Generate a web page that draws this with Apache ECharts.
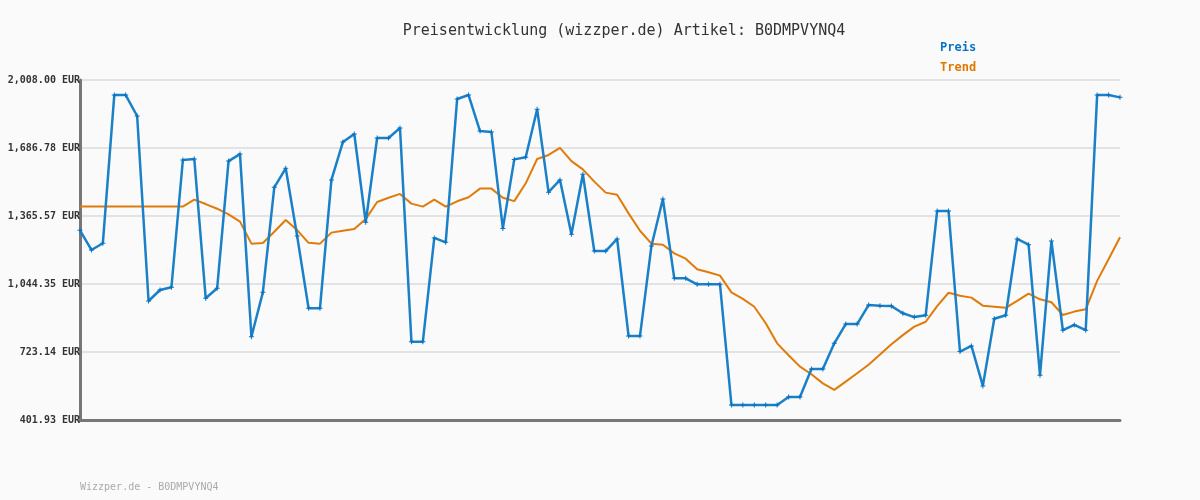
<!DOCTYPE html>
<html>
<head>
<meta charset="utf-8">
<script src="https://cdn.jsdelivr.net/npm/echarts@6/dist/echarts.min.js"></script>
<style>
html,body{margin:0;padding:0;background:#fafafa;}
#chart{width:1200px;height:500px;}
</style>
</head>
<body>
<div id="chart"></div>
<script>
const titleText = 'Preisentwicklung (wizzper.de) Artikel: B0DMPVYNQ4';
const footerText = 'Wizzper.de - B0DMPVYNQ4';
const seriesNames = ['Preis', 'Trend'];
const yTicks = [401.93, 723.14, 1044.35, 1365.57, 1686.78, 2008.00];

const preis = [
  1298, 1205, 1237, 1937, 1937, 1838, 964, 1016, 1029, 1630,
  1635, 977, 1024, 1625, 1658, 795, 1005, 1501, 1591, 1271,
  930, 930, 1536, 1715, 1753, 1336, 1734, 1734, 1781, 772,
  772, 1262, 1241, 1918, 1937, 1767, 1762, 1307, 1633, 1643,
  1870, 1478, 1536, 1279, 1563, 1200, 1200, 1257, 799, 799,
  1224, 1446, 1071, 1071, 1043, 1043, 1043, 473, 473, 473,
  473, 473, 511, 511, 643, 643, 764, 855, 855, 945,
  942, 940, 906, 888, 897, 1389, 1389, 725, 752, 563,
  880, 897, 1257, 1230, 613, 1247, 826, 851, 826, 1937,
  1937, 1926
];

const trend = [
  1410, 1410, 1410, 1410, 1410, 1410, 1410, 1410, 1410, 1410,
  1443, 1422, 1400, 1373, 1339, 1235, 1238, 1291, 1347, 1299,
  1239, 1235, 1287, 1296, 1304, 1351, 1432, 1452, 1470, 1424,
  1410, 1443, 1410, 1435, 1454, 1495, 1495, 1452, 1436, 1520,
  1635, 1654, 1687, 1625, 1586, 1528, 1476, 1466, 1378, 1296,
  1235, 1230, 1189, 1164, 1114, 1100, 1084, 1005, 974, 937,
  859, 764, 708, 654, 618, 575, 544, 583, 623, 663,
  711, 760, 803, 843, 866, 940, 1003, 989, 980, 942,
  937, 932, 965, 999, 972, 958, 898, 914, 925, 1059,
  1161, 1265
];

const categories = preis.map((_, i) => String(i + 1));

const yMin = yTicks[0];
const yMax = yTicks[yTicks.length - 1];
const yInterval = (yMax - yMin) / (yTicks.length - 1);

function fmt(v) {
  let best = yTicks[0];
  for (const t of yTicks) if (Math.abs(t - v) < Math.abs(best - v)) best = t;
  const s = best.toFixed(2);
  const parts = s.split('.');
  parts[0] = parts[0].replace(/\B(?=(\d{3})+(?!\d))/g, ',');
  return parts.join('.') + ' EUR';
}

const mono = '"DejaVu Sans Mono", "Liberation Mono", monospace';
const chart = echarts.init(document.getElementById('chart'));
chart.setOption({
  backgroundColor: '#fafafa',
  animation: false,
  title: {
    text: titleText,
    left: 619,
    textAlign: 'center',
    top: 19,
    textStyle: { fontFamily: mono, fontSize: 15, fontWeight: 'normal', color: '#333' }
  },
  legend: {
    orient: 'vertical',
    left: 929,
    top: 37,
    itemWidth: 0,
    itemHeight: 0,
    itemGap: 8,
    selectedMode: false,
    data: [
      { name: seriesNames[0], textStyle: { color: '#0a74c4' } },
      { name: seriesNames[1], textStyle: { color: '#e07800' } }
    ],
    textStyle: { fontFamily: mono, fontSize: 12, fontWeight: 'bold' }
  },
  graphic: [{
    type: 'text',
    left: 80,
    top: 482,
    style: { text: footerText, fontFamily: mono, fontSize: 10, fill: '#aaa' }
  }],
  grid: { left: 80, right: 80, top: 80, bottom: 80, containLabel: false },
  xAxis: {
    type: 'category',
    data: categories,
    boundaryGap: false,
    axisLine: { show: true, lineStyle: { color: '#777', width: 3 } },
    axisTick: { show: false },
    axisLabel: { show: false },
    splitLine: { show: false }
  },
  yAxis: {
    type: 'value',
    min: yMin,
    max: yMax,
    interval: yInterval,
    axisLine: { show: true, lineStyle: { color: '#777', width: 3 } },
    axisTick: { show: false },
    axisLabel: {
      formatter: fmt,
      margin: 0,
      fontFamily: mono,
      fontSize: 10,
      fontWeight: 'bold',
      color: '#333'
    },
    splitLine: { show: true, lineStyle: { color: '#e3e3e3', width: 2 } }
  },
  series: [
    {
      name: seriesNames[0],
      type: 'line',
      data: preis,
      color: '#0a7cc8',
      lineStyle: { width: 2.5, color: '#1a80c8' },
      symbol: 'path://M2,0 L3,0 L3,2 L5,2 L5,3 L3,3 L3,5 L2,5 L2,3 L0,3 L0,2 L2,2 Z',
      symbolSize: 5,
      showSymbol: true,
      itemStyle: { color: '#0a70c0' },
      z: 3
    },
    {
      name: seriesNames[1],
      type: 'line',
      data: trend,
      color: '#e07800',
      lineStyle: { width: 2, color: '#e07b0a' },
      symbol: 'none',
      z: 2
    }
  ]
});
</script>
</body>
</html>
